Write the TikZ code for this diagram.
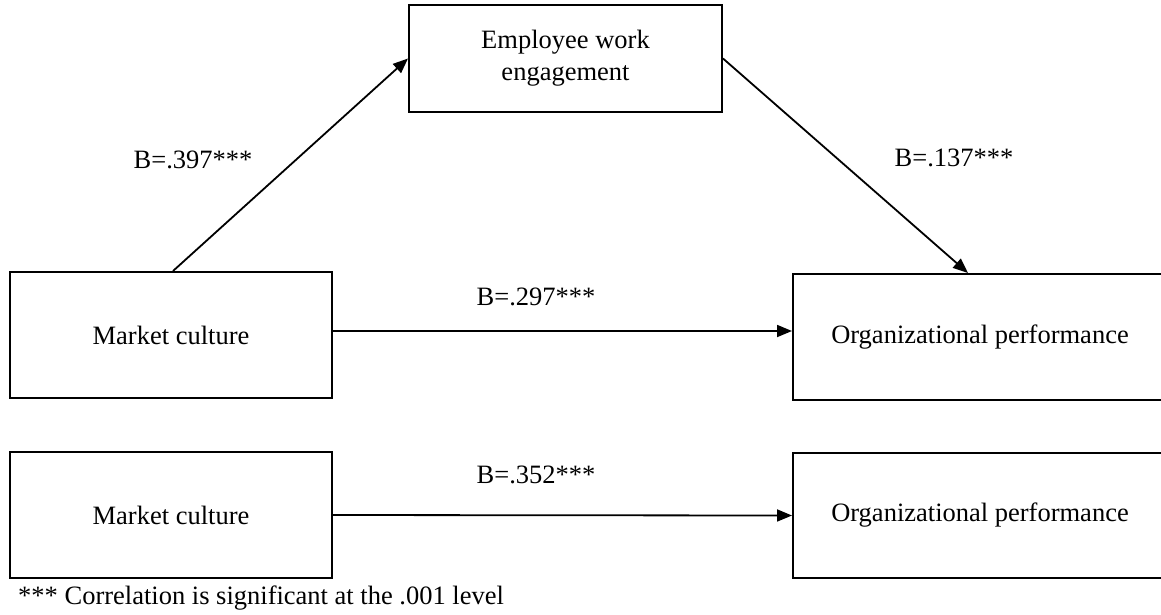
\documentclass[tikz,border=0pt]{standalone}
\usepackage{fontspec}
\setmainfont{Liberation Serif}
\usetikzlibrary{arrows.meta,calc}
\begin{document}
\begin{tikzpicture}[x=1pt,y=-1pt,
  every node/.style={font=\fontsize{26.5}{32}\selectfont},
  varbox/.style={draw,line width=2pt,rectangle,inner sep=0pt,align=center},
  path/.style={line width=1.8pt,-{Triangle[length=15pt,width=12pt]}},
  coef/.style={inner sep=0pt}]
\clip (0,0) rectangle (1161,614);
\fill[white] (0,0) rectangle (1161,614);

% mediation model
\node[varbox,minimum width=313pt,minimum height=107pt] (eng) at (565.5,58.5) {Employee work\\engagement};
\node[varbox,minimum width=322pt,minimum height=126pt] (mc1) at (171,335) {Market culture};
\node[varbox,minimum width=374pt,minimum height=126pt] (op1) at (980,337) {Organizational performance};

\coordinate (c1) at ($(mc1.east)+(0,-4)$);
\coordinate (p1) at (c1 -| op1.west);
\draw[path] ($(mc1.north west)+(164,0)$) -- (eng.west);
\draw[path] (eng.east) -- ($(op1.north west)+(176,0)$);
\draw[path] (c1) -- (p1);

\node[coef] (b1) at (193,160) {B=.397***};
\node[coef] (b2) at (954,158) {B=.137***};
\node[coef] (b3) at (536,297) {B=.297***};

% direct effect model
\node[varbox,minimum width=322pt,minimum height=126pt] (mc2) at (171,515) {Market culture};
\node[varbox,minimum width=374pt,minimum height=125pt] (op2) at (980,515.5) {Organizational performance};
\draw[path] (mc2.east) -- (op2.west);
\node[coef] (b4) at (536,475) {B=.352***};

\node[coef,anchor=west] (note) at (18,598) {*** Correlation is significant at the .001 level};
\end{tikzpicture}
\end{document}
